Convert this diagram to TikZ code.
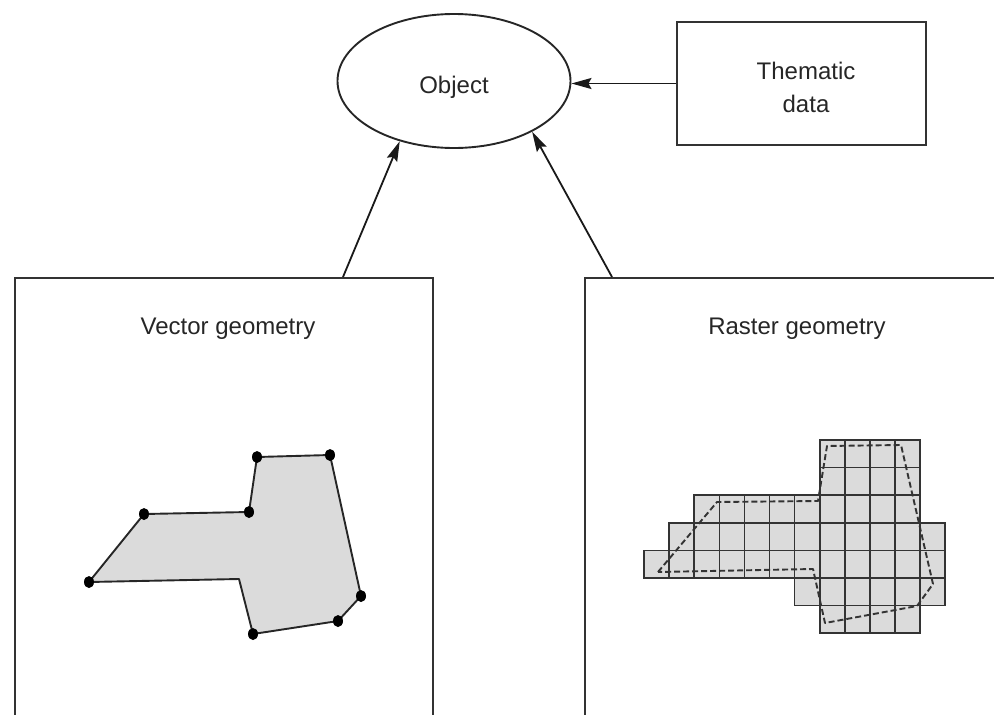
\documentclass[tikz,border=0pt]{standalone}
\usepackage{fontspec}
\setmainfont{Liberation Sans}
\usetikzlibrary{shapes.geometric,arrows.meta,positioning}

\begin{document}
\begin{tikzpicture}[x=1pt,y=-1pt,
  txt/.style={font=\fontsize{24}{33}\selectfont,text=black!85},
  panel/.style={draw=black!80,line width=2pt,inner sep=0pt},
  obj/.style={ellipse,draw=black!85,line width=1.9pt,minimum width=233pt,minimum height=134pt,inner sep=0pt,text height=24pt,text depth=0pt,txt},
  arr/.style={black!90,line width=1.8pt,-{Stealth[length=20pt,width=11pt,inset=3pt]}},
  parcel/.style={fill=gray!28,draw=black!85,line width=1.9pt,line join=round},
  cell/.style={fill=gray!28,draw=black!80,line width=1.6pt},
  vertex/.style={fill=black}]
  \useasboundingbox (0,0) rectangle (994,715);
  \clip (0,0) rectangle (994,715);

  \node[obj] (obj) at (454,81) {Object};
  \node[panel,minimum width=249pt,minimum height=123pt] (them) at (801.5,83.5) {};
  \node[txt,align=center] (themlbl) at (806,87) {Thematic\\data};

  \node[panel,minimum width=418pt,minimum height=482pt] (vec) at (224,519) {};
  \node[panel,minimum width=455pt,minimum height=482pt] (rast) at (812.5,519) {};
  \node[txt,anchor=base] (veclbl) at (228,334) {Vector geometry};
  \node[txt,anchor=base] (rastlbl) at (797,334) {Raster geometry};

  \draw[arr] (them.west) -- (them.west -| obj.east);
  \draw[arr] ([xshift=119pt]vec.north) -- (obj.-132);
  \draw[arr] ([xshift=-200.5pt]rast.north) -- (obj.-33);

  % vector parcel
  \coordinate (v1) at (89,582);
  \coordinate (v2) at (144,514);
  \coordinate (v3) at (249,512);
  \coordinate (v4) at (257,457);
  \coordinate (v5) at (330,455);
  \coordinate (v6) at (361,596);
  \coordinate (v7) at (338,621);
  \coordinate (v8) at (253,634);
  \coordinate (v9) at (239,579);
  \draw[parcel] (v1) -- (v2) -- (v3) -- (v4) -- (v5) -- (v6) -- (v7) -- (v8) -- (v9) -- cycle;
  \foreach \i in {1,...,8}
    \fill[vertex] (v\i) ellipse (5 and 6);

  % raster cells, row/first column/last column
  \foreach \r/\a/\b in {0/7/10,1/7/10,2/2/10,3/1/11,4/0/11,5/6/11,6/7/10}
    \foreach \c in {\a,...,\b}
      \draw[cell] (644+25.1*\c,440+27.6*\r) rectangle ++(25.1,27.6);
  \draw[black!80,line width=1.9pt,dash pattern=on 6pt off 3pt,line join=round]
    (658,572) -- (717,502) -- (818,501) -- (827,446) -- (901,445) -- (933,584)
    -- (917,606) -- (825,623) -- (813,569) -- cycle;
\end{tikzpicture}
\end{document}
